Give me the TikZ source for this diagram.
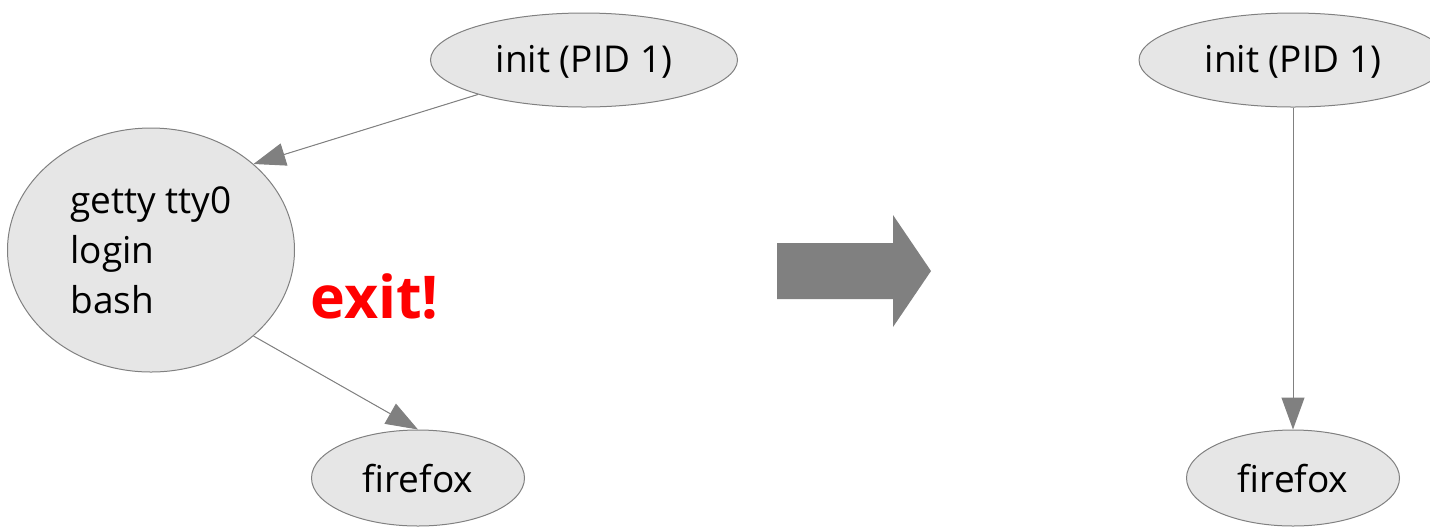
\documentclass[tikz,border=0pt]{standalone}
\usepackage{fontspec}
\setmainfont{Open Sans}
\usepackage{xcolor}
\definecolor{procfill}{RGB}{230,230,230}
\definecolor{procgray}{RGB}{128,128,128}
\usetikzlibrary{positioning, arrows.meta, shapes.geometric}

\begin{document}
\begin{tikzpicture}[
    % GLOBAL CFG
    x=0.5pt, y=-0.5pt,
    font=\fontsize{18.5}{25}\selectfont,
    >={Triangle[length=16pt,width=11.5pt]},
    % Styles
    proc/.style={% For the process ellipses
        ellipse,
        draw=procgray,
        fill=procfill,
        line width=0.5pt,
        inner sep=0pt,
        },
    exitlabel/.style={% the red exit mark
        font=\fontsize{29.5}{36}\selectfont\bfseries,
        text=red,
        inner sep=0pt,
        anchor=base west,
        },
    ArrowG/.style={% gray connectors
        ->,
        draw=procgray,
        fill=procgray,
        line width=0.5pt,
        },
    ]
    \useasboundingbox (0,0) rectangle (1430,527);

    % Left side: before
    \node [proc, minimum width=153.5pt, minimum height=47pt, text height=15pt] (init1) at (584,60) {init (PID 1)};
    \node [proc, minimum width=143.5pt, minimum height=122pt, align=left] (getty) at (151,250)
        {getty tty0\\login\\bash};
    \node [proc, minimum width=106.5pt, minimum height=48pt, text height=15pt] (fox1) at (418,478) {firefox};
    \node [exitlabel] (exit) at (310,318) {exit!};

    % Right side: after
    \node [proc, minimum width=154pt, minimum height=47pt, text height=15pt] (init2) at (1293,60) {init (PID 1)};
    \node [proc, minimum width=106.5pt, minimum height=48pt, text height=15pt] (fox2) at (1293,478) {firefox};

    % Big arrow in the middle
    \fill [procgray] (777,243) -- (893,243) -- (893,215) -- (931,271)
        -- (893,327) -- (893,299) -- (777,299) -- cycle;

    % Connect all
    \draw [ArrowG] (init1.198) -- (getty.40);
    \draw [ArrowG] (getty.-40) -- (fox1.north);
    \draw [ArrowG] (init2.south) -- (fox2.north);

\end{tikzpicture}
\end{document}
